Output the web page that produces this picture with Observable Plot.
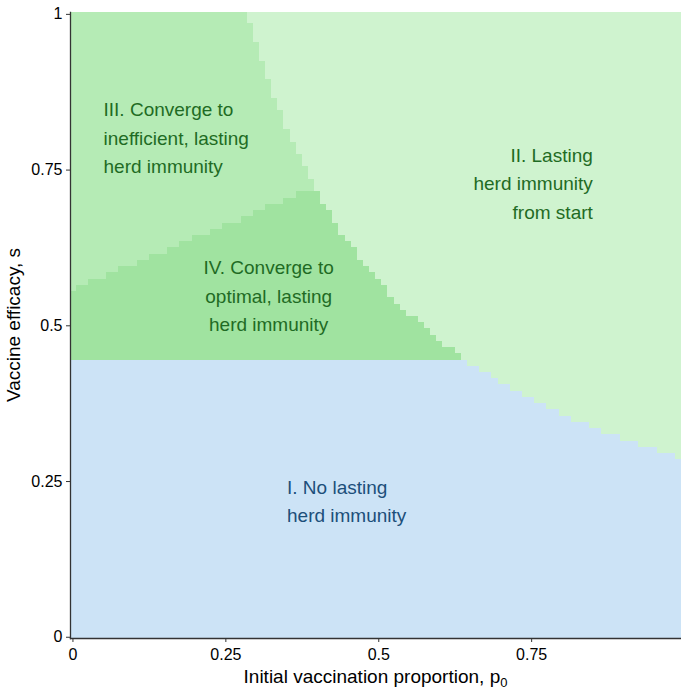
<!DOCTYPE html>
<html><head><meta charset="utf-8">
<script src="https://cdn.jsdelivr.net/npm/d3@7"></script>
<script src="https://cdn.jsdelivr.net/npm/@observablehq/plot@0.6"></script>
<style>html,body{margin:0;padding:0;background:#fff} svg{display:block}</style>
</head><body><div id="chart"></div>
<script>
// Grid columns: initial vaccination proportion p0 = 0, 0.01, ..., 0.99
const p0 = d3.range(100).map(i => i / 100);
const sStep = 0.01;

// Region I (no lasting herd immunity) occupies s below this value
const lastingMin = 0.45;

// Top s of region IV for p0 = 0 .. 0.40 (above it: region III)
const ivTop = [0.55,0.56,0.56,0.57,0.57,0.57,0.58,0.58,0.59,0.59,
               0.59,0.60,0.60,0.61,0.61,0.61,0.62,0.62,0.63,0.63,
               0.64,0.64,0.64,0.65,0.65,0.66,0.66,0.66,0.67,0.67,
               0.68,0.68,0.69,0.69,0.69,0.70,0.70,0.71,0.71,0.71,
               0.71];

// Lowest s of region II (lasting herd immunity from start) per column
const iiStart = [null,null,null,null,null,null,null,null,null,null,
                 null,null,null,null,null,null,null,null,null,null,
                 null,null,null,null,null,null,null,null,null,0.99,
                 0.96,0.93,0.90,0.87,0.85,0.82,0.80,0.78,0.76,0.74,
                 0.72,0.70,0.69,0.67,0.65,0.64,0.63,0.61,0.60,0.59,
                 0.58,0.57,0.55,0.54,0.53,0.52,0.52,0.51,0.50,0.49,
                 0.48,0.47,0.47,0.46,0.45,0.44,0.44,0.43,0.43,0.42,
                 0.41,0.41,0.40,0.40,0.39,0.39,0.38,0.38,0.37,0.37,
                 0.36,0.36,0.35,0.35,0.35,0.34,0.34,0.33,0.33,0.33,
                 0.32,0.32,0.32,0.31,0.31,0.31,0.30,0.30,0.30,0.29];

const regionNames = ["I", "II", "III", "IV"];
const regionColors = ["#cce3f6", "#cff3cf", "#b5ebb5", "#a0e3a0"];

const xTicks = [0, 0.25, 0.5, 0.75];
const yTicks = [0, 0.25, 0.5, 0.75, 1];

const labelText = [
  "III. Converge to\ninefficient, lasting\nherd immunity",
  "II. Lasting\nherd immunity\nfrom start",
  "IV. Converge to\noptimal, lasting\nherd immunity",
  "I. No lasting\nherd immunity"
];
const labelX = [0.05, 0.85, 0.32, 0.35];
const labelY = [0.805, 0.732, 0.552, 0.222];
const labelAnchor = ["start", "end", "middle", "start"];
const labelColor = ["#1f6b24", "#1f6b24", "#1f6b24", "#1c4f7a"];

// Build vertical runs of each region per column
const cells = [];
p0.forEach((x, i) => {
  const h = sStep / 2;
  const ii = iiStart[i] ?? 1 + sStep;
  const top4 = ivTop[i] ?? 1;
  const segs = [
    ["I", -h, Math.min(lastingMin, ii) - h],
    ["IV", lastingMin - h, Math.min(top4 + sStep, ii) - h],
    ["III", top4 + h, ii - h],
    ["II", ii - h, 1 + h]
  ];
  for (const [r, a, b] of segs) {
    if (b - a > 1e-9) cells.push({x1: x - h, x2: x + h, y1: a, y2: b, region: r});
  }
});

const labels = labelText.map((t, i) => ({text: t, x: labelX[i], y: labelY[i], anchor: labelAnchor[i], color: labelColor[i]}));

const font = "'Liberation Sans', Arial, Helvetica, sans-serif";

const plot = Plot.plot({
  width: 681,
  height: 691,
  marginLeft: 70,
  marginRight: 0,
  marginTop: 12,
  marginBottom: 53,
  x: {domain: [-0.004, 0.995], label: null},
  y: {domain: [-0.002, 1.003], label: null},
  color: {domain: regionNames, range: regionColors},
  style: {fontFamily: font, background: "white", color: "black", overflow: "visible"},
  marks: [
    Plot.rect(cells, {x1: "x1", x2: "x2", y1: "y1", y2: "y2", fill: "region", inset: 0, clip: true, shapeRendering: "crispEdges"}),
    ...labels.map(l => Plot.text([l], {x: "x", y: "y", text: "text", textAnchor: l.anchor, lineAnchor: "middle", lineHeight: 1.5, fontSize: 19, fill: l.color})),
    Plot.axisX({ticks: xTicks, tickFormat: d => String(d), tickSize: 4, tickPadding: 6, fontSize: 16, label: null, stroke: "#333"}),
    Plot.axisY({ticks: yTicks, tickFormat: d => String(d), tickSize: 4, tickPadding: 4, fontSize: 16, label: null, stroke: "#333"}),
    Plot.frame({anchor: "left", stroke: "#333", strokeWidth: 1.3}),
    Plot.frame({anchor: "bottom", stroke: "#333", strokeWidth: 1.3})
  ]
});

const svg = d3.select(plot);
const xt = svg.append("text")
  .attr("x", 375.5).attr("y", 683)
  .attr("text-anchor", "middle")
  .attr("font-size", 19)
  .attr("font-family", font)
  .attr("fill", "black");
xt.append("tspan").text("Initial vaccination proportion, p");
xt.append("tspan").attr("font-size", 13).attr("dy", 4).text("0");

svg.append("text")
  .attr("transform", "translate(20,325) rotate(-90)")
  .attr("text-anchor", "middle")
  .attr("font-size", 19)
  .attr("font-family", font)
  .attr("fill", "black")
  .text("Vaccine efficacy, s");

document.getElementById("chart").append(plot);
</script>
</body></html>
